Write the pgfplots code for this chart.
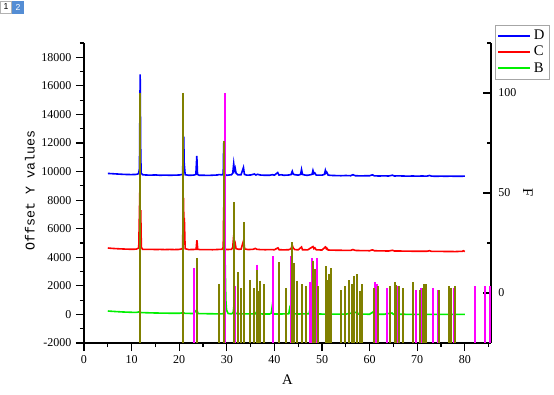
\documentclass[border=0pt]{standalone}
\usepackage{pgfplots}
\pgfplotsset{compat=1.18}
\usepackage{pgfplotstable}
\usepackage{fontspec}
\setmainfont{Liberation Serif}
\setsansfont{Liberation Sans}
\newfontfamily\monofont{Liberation Mono}
\definecolor{olivec}{RGB}{128,128,0}
\definecolor{magc}{RGB}{255,0,255}
\definecolor{bluec}{RGB}{0,0,255}
\definecolor{redc}{RGB}{255,0,0}
\definecolor{tabblue}{RGB}{84,141,212}
\definecolor{lgreen}{RGB}{0,240,0}

\pgfplotstableread{
x v
5 9870
6 9850
7 9830
8 9810
9 9795
10 9790
11 9800
11.45 9850
11.65 10200
11.8 16800
11.9 11800
12.0 9900
12.3 9780
13 9760
14 9750
15 9765
16 9740
17 9755
18 9740
19 9750
20 9760
20.7 9800
20.95 12450
21.05 10600
21.25 9780
22 9740
23 9750
23.5 9800
23.7 11100
23.85 9800
24.2 9740
25 9745
26 9730
27 9745
28 9760
28.4 9790
29 9770
29.25 9850
29.35 12000
29.5 9800
30 9740
31 9780
31.25 9900
31.45 10550
31.6 10100
31.75 10250
31.95 9880
32.3 9780
33 9780
33.5 10280
33.7 9800
34.2 9750
35 9760
35.8 9830
36.1 9760
36.5 9810
37 9760
38 9740
39 9745
39.6 9780
40 9750
40.7 9930
40.95 9760
41.5 9775
42 9740
43 9760
43.5 9790
43.75 10020
43.95 9820
44.3 9780
45 9750
45.5 9800
45.7 10140
45.9 9800
46.5 9750
47 9740
47.9 9800
48.1 10080
48.3 9850
48.5 9900
48.8 9750
50 9750
50.5 9800
50.7 10080
50.85 9900
51.0 9960
51.3 9750
52 9730
53 9720
54 9710
55 9725
56 9710
56.5 9780
57 9710
58 9700
59 9705
60 9710
60.6 9770
61 9700
62 9690
63 9700
64 9690
64.8 9745
65.2 9690
66 9700
67 9690
68 9680
69 9690
70 9680
71 9690
72 9680
72.6 9725
73 9680
74 9670
75 9680
76 9670
77 9680
78 9670
79 9670
80 9680
}\tblD

\pgfplotstableread{
x v
5 4650
6 4620
7 4600
8 4585
9 4570
10 4560
11 4570
11.5 4650
11.75 9000
11.85 6000
11.92 7300
12.05 4700
12.3 4560
13 4550
14 4555
15 4545
16 4550
17 4540
18 4550
19 4540
20 4550
20.7 4600
20.9 8150
21.0 6000
21.08 6750
21.25 4600
22 4540
23 4545
23.55 4560
23.72 5200
23.9 4560
24.3 4540
25 4535
26 4540
27 4530
28 4545
29 4560
29.25 4700
29.35 7500
29.5 4600
30 4540
31 4560
31.25 4700
31.45 5550
31.6 4900
31.75 5000
31.95 4600
32.5 4560
33 4570
33.55 5200
33.75 4580
34.5 4540
35.5 4560
36 4620
36.3 4560
37 4540
38 4530
39 4535
40 4530
40.75 4660
41 4530
42 4520
43 4530
43.5 4600
43.75 4850
43.95 4650
44.3 4540
45 4520
45.7 4720
45.9 4530
47 4520
48.1 4750
48.3 4600
48.5 4660
48.8 4520
50 4510
50.7 4720
50.9 4600
51.0 4650
51.3 4510
52 4500
54 4490
56 4480
56.5 4540
57 4480
58 4470
60 4460
60.6 4520
61 4460
62 4450
64 4440
64.8 4490
65.2 4440
66 4440
68 4430
70 4420
72 4420
72.6 4460
73 4415
75 4410
77 4405
78 4400
79.5 4420
79.7 4460
80 4400
}\tblC

\pgfplotstableread{
x v
5 240
6 215
7 195
8 175
9 160
10 150
11 140
11.75 190
12 130
13 120
14 110
15 100
16 95
17 90
18 85
19 80
20 80
20.9 120
21.2 75
22 70
23 65
23.7 320
23.95 60
25 55
26 50
27 45
28 40
29 40
29.45 90
29.65 3700
29.8 1000
29.95 300
30.3 60
31 40
31.35 150
31.5 600
31.7 250
31.9 60
33 40
34 35
35 35
36 40
36.3 200
36.5 40
38 30
39 30
39.35 90
39.55 590
39.75 90
40 30
41 30
43 40
43.2 400
43.45 60
45 30
47.3 50
47.5 420
47.7 100
48.5 350
48.75 40
50 25
52 20
55 20
57.4 160
57.6 20
60 15
60.7 170
61 15
63 10
64.7 100
65 10
67 10
70 5
72 5
75 0
78 0
80 0
}\tblB

\pgfplotstableread{
x F
11.76 100
20.86 100
23.66 17.5
28.3 4.5
29.33 75.8
31.43 45.3
32.34 10.3
33.04 2.3
33.6 35.3
34.79 6.5
35.7 2.5
36.33 11.7
36.54 1.2
36.96 6.2
37.72 4.3
40.94 15.3
42.48 2.5
43.74 25.3
44.03 15
44.66 6.2
45.9 4.3
46.55 3.3
48.08 16.2
48.57 12
49.13 3.3
50.75 13.3
51.17 6.5
51.5 9.3
51.8 12.3
54.03 1.3
54.87 3.3
55.57 6.3
56.27 4.3
56.76 8.7
57.25 9.3
58.0 1.2
58.5 4.3
60.83 2.5
61.73 3.3
64.2 3.3
65.23 5.3
65.58 3.8
66.2 3.3
67.1 2.3
69.15 5.3
70.5 1.3
71.2 2.3
71.46 4.3
71.75 4.3
74.6 1.3
76.7 3.3
77.0 2.3
77.97 3.3
}\tblOlive

\pgfplotstableread{
x F
23.17 12.3
29.6 100
31.7 3.3
36.26 14.2
39.75 18.3
43.46 18.3
47.45 5.3
47.8 17.3
48.86 17.3
61.1 5.3
61.45 4.3
63.6 2.3
66.0 3.3
69.8 1.3
70.76 2.3
73.4 2.3
74.3 1.3
77.7 2.3
82.1 3.3
84.3 3.3
85.2 3.3
}\tblMag

\begin{document}
\begin{tikzpicture}
\useasboundingbox (-63pt,-38.25pt) rectangle (352.5pt,257.25pt);
\pgfplotsset{
  common/.style={
    scale only axis, width=305.25pt, height=225pt,
    xmin=0, xmax=85.5,
    /pgf/number format/assume math mode=true,
    /pgf/number format/set thousands separator={},
    tick label style={font=\fontsize{9}{10}\selectfont},
    label style={font=\fontsize{11}{12}\selectfont},
    x axis line style={-, line width=0.9pt},
    y axis line style={-, line width=0.9pt},
    tick style={line width=0.8pt, black},
    major tick length=6pt, minor tick length=3pt,
  }
}
\begin{axis}[common,
  ymin=-2000, ymax=19000,
  axis x line*=bottom, axis y line*=left,
  tick align=outside,
  xtick={0,10,...,80}, minor xtick={5,15,...,85},
  ytick={-2000,0,...,18000}, minor ytick={-1000,1000,...,19000},
  scaled y ticks=false,
  xlabel={A},
  xlabel style={at={(axis description cs:0.5,-0.123)}, anchor=center},
  ylabel={\monofont\fontsize{10}{12}\selectfont Offset Y values},
  ylabel style={at={(axis description cs:-0.133,0.51)}, anchor=center},
  legend style={at={(axis description cs:1.0098,1.06)}, anchor=north west,
    draw=gray!70, fill=white, font=\fontsize{11}{12}\selectfont,
    inner sep=1.5pt, row sep=-0.5pt, cells={anchor=west}},
  legend image code/.code={\draw[#1, line width=1.5pt] (0pt,0pt) -- (24pt,0pt);},
]
\addplot[bluec, line width=1.2pt] table[x=x, y=v] {\tblD};
\addlegendentry{D}
\addplot[redc, line width=1.2pt] table[x=x, y=v] {\tblC};
\addlegendentry{C}
\addplot[lgreen, line width=1.2pt] table[x=x, y=v] {\tblB};
\addlegendentry{B}
\end{axis}
\begin{axis}[common,
  ymin=-25, ymax=125,
  axis x line=none, axis y line*=right,
  tick align=inside,
  ytick={0,50,100}, minor ytick={25,75,125},
  ylabel={F},
  ylabel style={at={(axis description cs:1.091,0.5)}, anchor=center, rotate=180},
  yticklabel style={xshift=2pt},
]
\addplot[draw=none, mark=none, error bars/.cd, y dir=minus, y fixed=300,
  error mark=none, error bar style={draw=magc, line width=1.5pt}]
  table[x=x, y=F] {\tblMag};
\addplot[draw=none, mark=none, error bars/.cd, y dir=minus, y fixed=300,
  error mark=none, error bar style={draw=olivec, line width=1.5pt}]
  table[x=x, y=F] {\tblOlive};
\end{axis}
\node[draw=gray!60, fill=white, minimum width=8pt, minimum height=9pt, inner sep=0pt,
  font=\sffamily\fontsize{6.5}{7}\selectfont] at (-58.5pt,252pt) {1};
\node[draw=tabblue, fill=tabblue, text=white, minimum width=8pt, minimum height=9pt, inner sep=0pt,
  font=\sffamily\fontsize{6.5}{7}\selectfont] at (-49.5pt,252pt) {2};
\end{tikzpicture}
\end{document}
